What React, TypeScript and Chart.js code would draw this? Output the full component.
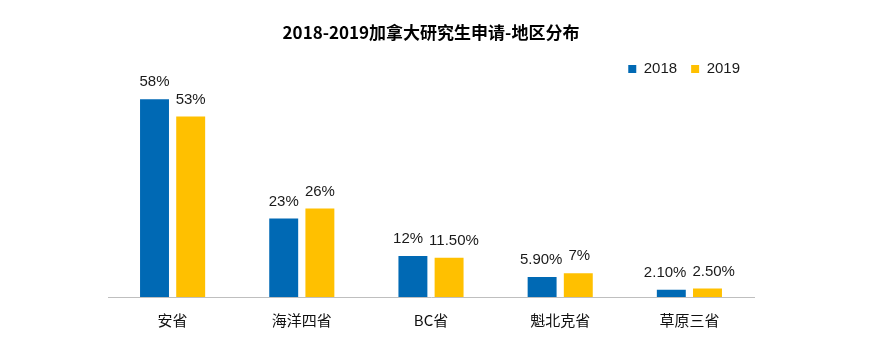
import { useEffect, useRef } from "react";
import { Chart, registerables } from "chart.js";

Chart.register(...registerables);

const chartTitle = "2018-2019加拿大研究生申请-地区分布";
const categories = ["安省", "海洋四省", "BC省", "魁北克省", "草原三省"];
const seriesNames = ["2018", "2019"];
const values2018 = [58, 23, 12, 5.9, 2.1];
const values2019 = [53, 26, 11.5, 7, 2.5];
const labels2018 = ["58%", "23%", "12%", "5.90%", "2.10%"];
const labels2019 = ["53%", "26%", "11.50%", "7%", "2.50%"];
const seriesColors = ["#0069B4", "#FFC000"];

const valueLabels = {
  id: "valueLabels",
  afterDatasetsDraw(chart: any) {
    const ctx = chart.ctx;
    const texts = [labels2018, labels2019];
    ctx.save();
    ctx.font = "15px 'Liberation Sans', Arial, sans-serif";
    ctx.fillStyle = "#1a1a1a";
    ctx.textAlign = "center";
    ctx.textBaseline = "middle";
    const m0 = chart.getDatasetMeta(0);
    const m1 = chart.getDatasetMeta(1);
    for (let i = 0; i < categories.length; i++) {
      const a = m0.data[i];
      const b = m1.data[i];
      let xa = a.x;
      let xb = b.x;
      const wa = ctx.measureText(texts[0][i]).width;
      const wb = ctx.measureText(texts[1][i]).width;
      const overlap = wa / 2 + wb / 2 + 6 - (xb - xa);
      if (overlap > 0) {
        xa -= overlap / 2;
        xb += overlap / 2;
      }
      ctx.fillText(texts[0][i], xa, a.y - 17);
      ctx.fillText(texts[1][i], xb, b.y - 17);
    }
    ctx.restore();
  },
};

export default function App() {
  const ref = useRef<HTMLCanvasElement | null>(null);
  useEffect(() => {
    if (!ref.current) return;
    const chart = new Chart(ref.current, {
      type: "bar",
      data: {
        labels: categories,
        datasets: [
          {
            label: seriesNames[0],
            data: values2018,
            backgroundColor: seriesColors[0],
            barPercentage: 0.8,
            categoryPercentage: 0.56,
          },
          {
            label: seriesNames[1],
            data: values2019,
            backgroundColor: seriesColors[1],
            barPercentage: 0.8,
            categoryPercentage: 0.56,
          },
        ],
      },
      options: {
        responsive: false,
        animation: false,
        layout: { padding: { left: 100, right: 125, top: 0, bottom: 10 } },
        plugins: {
          title: {
            display: true,
            text: chartTitle,
            color: "#000",
            font: { family: "'Noto Sans CJK SC', sans-serif", size: 17, weight: "bold" },
            padding: { top: 14, bottom: 5 },
          },
          legend: {
            display: true,
            position: "top",
            align: "end",
            labels: {
              boxWidth: 8,
              boxHeight: 8,
              padding: 14,
              color: "#1a1a1a",
              font: { family: "'Liberation Sans', Arial, sans-serif", size: 15 },
            },
          },
          tooltip: { enabled: false },
        },
        scales: {
          x: {
            grid: { display: false, drawTicks: false },
            border: { display: true, color: "#BFBFBF", width: 1 },
            ticks: {
              padding: 14,
              color: "#111",
              font: { family: "'Noto Sans CJK SC', sans-serif", size: 15 },
            },
          },
          y: {
            display: false,
            min: 0,
            max: 61.8,
          },
        },
      },
      plugins: [valueLabels],
    });
    return () => chart.destroy();
  }, []);
  return (
    <div style={{ width: 871, height: 345 }}>
      <canvas ref={ref} width={871} height={345} style={{ display: "block" }} />
    </div>
  );
}
